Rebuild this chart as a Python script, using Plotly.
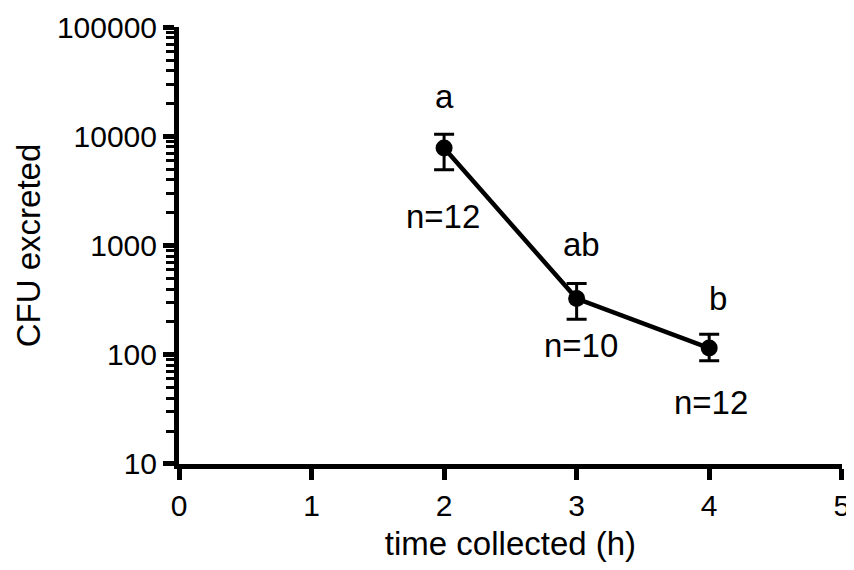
import math
import plotly.graph_objects as go

# data
time_h = [2, 3, 4]
cfu_mean = [7820, 327, 115]
err_plus = [2640, 121, 39]
err_minus = [2880, 116, 27]

top_labels = ["a", "ab", "b"]
top_label_x = [2.0, 3.04, 4.065]
top_label_y = [23000, 1030, 327]
n_labels = ["n=12", "n=10", "n=12"]
n_label_x = [1.99, 3.03, 4.01]
n_label_y = [1850, 122, 36.5]

x_ticks = [0, 1, 2, 3, 4, 5]
y_ticks = [10, 100, 1000, 10000, 100000]
y_minor = [m * d for d in [10, 100, 1000, 10000] for m in range(2, 10)]

FONT = "Liberation Sans, Arial, Helvetica, sans-serif"

fig = go.Figure()
fig.add_trace(go.Scatter(
    x=time_h, y=cfu_mean, mode="lines+markers",
    line=dict(color="black", width=4.5),
    marker=dict(color="black", size=17),
    error_y=dict(type="data", array=err_plus, arrayminus=err_minus,
                 color="black", thickness=3, width=10),
    showlegend=False,
))

for x, y, t in zip(top_label_x, top_label_y, top_labels):
    fig.add_annotation(x=x, y=math.log10(y), text=t, showarrow=False,
                       font=dict(family=FONT, size=33, color="black"))
for x, y, t in zip(n_label_x, n_label_y, n_labels):
    fig.add_annotation(x=x, y=math.log10(y), text=t, showarrow=False,
                       font=dict(family=FONT, size=33, color="black"))

fig.update_layout(
    width=846, height=562,
    margin=dict(l=171, r=12, t=19, b=106),
    plot_bgcolor="white", paper_bgcolor="white",
    font=dict(family=FONT, size=30, color="black"),
    xaxis=dict(range=[0, 5.002], tickvals=x_ticks, showline=True, linewidth=5,
               linecolor="black", ticks="outside", ticklen=11, tickwidth=5,
               tickcolor="black", showgrid=False, zeroline=False, automargin=False,
               ticklabeloverflow="allow",
               title=dict(text="time collected (h)", font=dict(size=33), standoff=12)),
    yaxis=dict(type="log", range=[0.999, 5.002], tickvals=y_ticks,
               ticktext=[str(v) for v in y_ticks],
               showline=True, linewidth=5, linecolor="black",
               ticks="outside", ticklen=11, tickwidth=5, tickcolor="black",
               showgrid=False, zeroline=False, automargin=False,
               ticklabeloverflow="allow",
               minor=dict(tickmode="array", tickvals=y_minor, ticks="outside",
                          ticklen=8, tickwidth=3, tickcolor="black", showgrid=False),
               title=dict(text="CFU excreted", font=dict(size=33), standoff=8)),
)

fig.write_html("out.html")
